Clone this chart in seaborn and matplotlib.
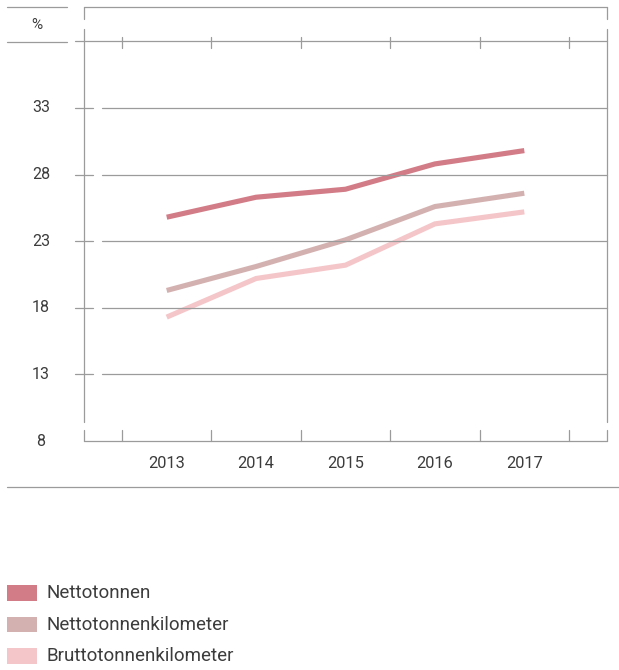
import numpy as np
import pandas as pd
import matplotlib.pyplot as plt
import matplotlib.transforms as mtransforms
from matplotlib.lines import Line2D
from matplotlib.patches import Rectangle
import seaborn as sns

# Data
years = [2013, 2014, 2015, 2016, 2017]
nettotonnen = [24.8, 26.3, 26.9, 28.8, 29.8]
nettotonnenkilometer = [19.3, 21.1, 23.1, 25.6, 26.6]
bruttotonnenkilometer = [17.3, 20.2, 21.2, 24.3, 25.2]
series_names = ['Nettotonnen', 'Nettotonnenkilometer', 'Bruttotonnenkilometer']
colors = ['#d27c87', '#d4b1b1', '#f5c6c9']
y_ticks = [8, 13, 18, 23, 28, 33]
y_top = 38
unit_label = '%'

sns.set_style('white')
plt.rcParams['font.family'] = ['Roboto', 'DejaVu Sans']

GRAY = '#9b9b9b'
TXT = '#3c3c3c'
LW = 0.9

W, H = 619, 670
fig = plt.figure(figsize=(W / 100, H / 100), dpi=100)


def fx(px):
    return px / W


def fy(py):
    return 1 - py / H


ax = fig.add_axes([fx(84), fy(441), fx(607) - fx(84), fy(7) - fy(441)])
ax.set_axis_off()

df = pd.DataFrame({
    'Jahr': years * 3,
    'Wert': nettotonnen + nettotonnenkilometer + bruttotonnenkilometer,
    'Reihe': [n for n in series_names for _ in years],
})
sns.lineplot(data=df, x='Jahr', y='Wert', hue='Reihe', hue_order=series_names,
             palette=colors, linewidth=3.7, legend=False, ax=ax,
             solid_capstyle='butt', solid_joinstyle='round')
ax.set_xlim(years[0] - 0.925, years[-1] + 0.925)
ax.set_ylim(y_ticks[0], 40.58)

# helpers for figure-pixel lines
def hline(py, x0, x1):
    fig.add_artist(Line2D([fx(x0), fx(x1)], [fy(py), fy(py)], color=GRAY, lw=LW))


def vline(px, y0, y1):
    fig.add_artist(Line2D([fx(px), fx(px)], [fy(y0), fy(y1)], color=GRAY, lw=LW))


ytrans = ax.get_yaxis_transform()
xfig = mtransforms.blended_transform_factory(ax.transData, fig.transFigure)

# gridlines with small crossing ticks
for v in y_ticks[1:]:
    ax.plot([(102 - 84) / 523, 1], [v, v], transform=ytrans, color=GRAY, lw=LW, clip_on=False)
    ax.plot([(75 - 84) / 523, (93 - 84) / 523], [v, v], transform=ytrans, color=GRAY, lw=LW, clip_on=False)
# top line of plotting area
ax.plot([(75 - 84) / 523, 1], [y_top, y_top], transform=ytrans, color=GRAY, lw=LW, clip_on=False)
# header frame
hline(7, 84, 607)
hline(7, 7, 67)
hline(42, 7, 67)
# bottom axis
ax.plot([0, 1], [y_ticks[0], y_ticks[0]], transform=ytrans, color=GRAY, lw=LW, clip_on=False)
# side verticals
for px in (84, 607):
    vline(px, 7, 19)
    vline(px, 29, 422)
    vline(px, 430, 441)

# category boundary ticks (top and bottom)
bounds = [y - 0.5 for y in years] + [years[-1] + 0.5]
for b in bounds:
    ax.plot([b, b], [fy(37), fy(48)], transform=xfig, color=GRAY, lw=LW, clip_on=False)
    ax.plot([b, b], [fy(430), fy(441)], transform=xfig, color=GRAY, lw=LW, clip_on=False)

# y labels
for v in y_ticks:
    ax.text(fx(41), v, str(v), transform=mtransforms.blended_transform_factory(fig.transFigure, ax.transData),
            ha='center', va='center', fontsize=11.5, color=TXT)
fig.text(fx(37), fy(25), unit_label, ha='center', va='center', fontsize=11, color=TXT)

# x labels
for yr in years:
    ax.text(yr, fy(463), str(yr), transform=xfig, ha='center', va='center', fontsize=11.8, color=TXT)

# bottom separator
hline(487, 7, 619)

# legend
leg_y = [(585, 601), (617, 632), (648, 664)]
for name, col, (y0, y1) in zip(series_names, colors, leg_y):
    fig.add_artist(Rectangle((fx(7), fy(y1)), fx(37) - fx(7), fy(y0) - fy(y1),
                             transform=fig.transFigure, facecolor=col, edgecolor='none'))
    fig.text(fx(46), fy((y0 + y1) / 2), name, ha='left', va='center', fontsize=13.5, color=TXT)

fig.savefig('out.png', dpi=100)
